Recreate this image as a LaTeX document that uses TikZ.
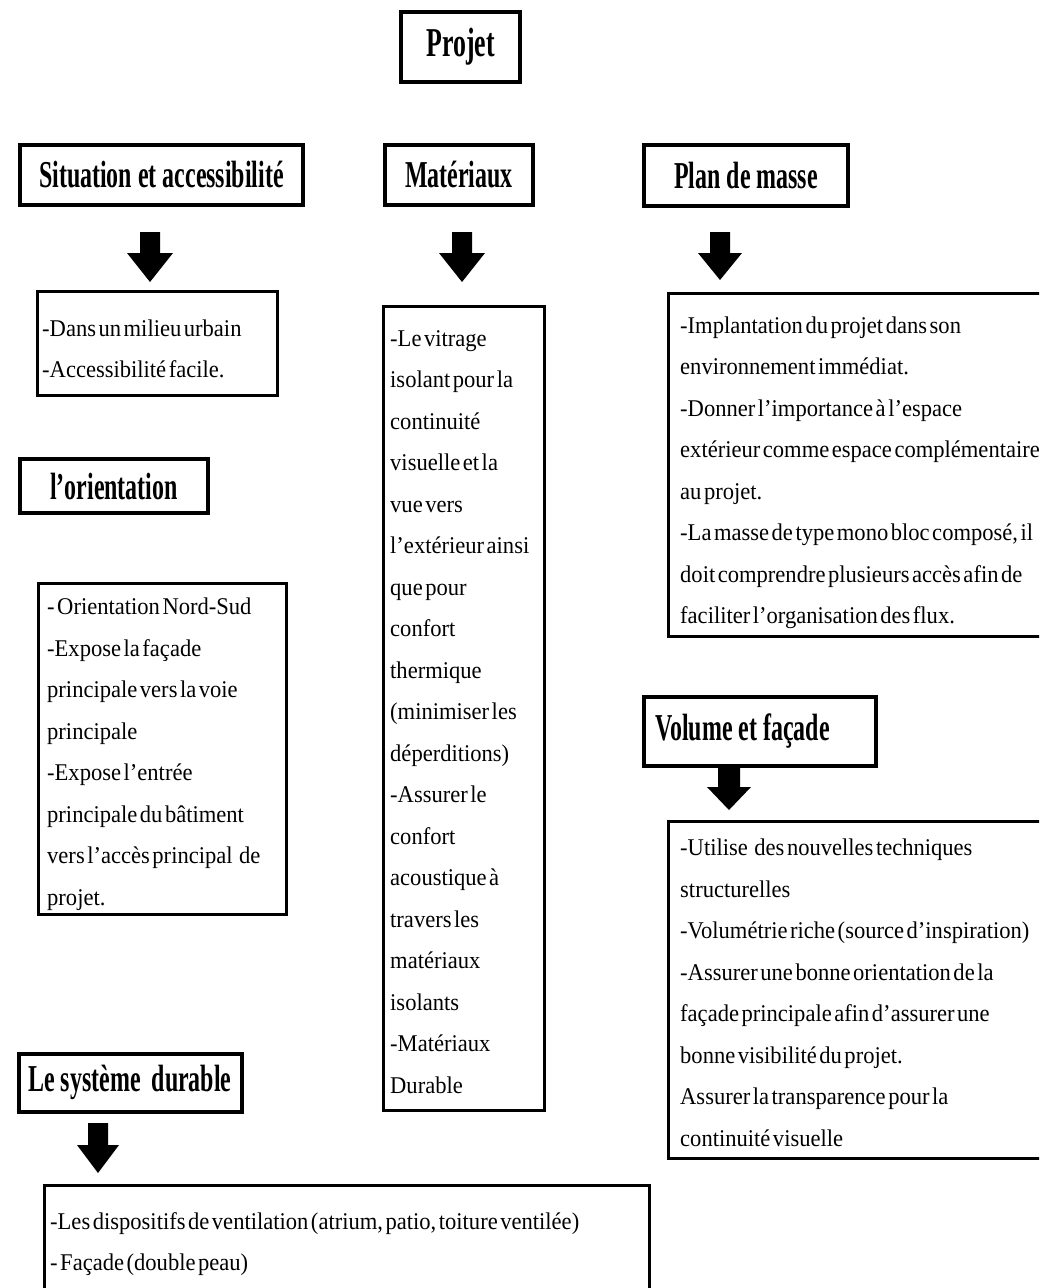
\documentclass[tikz,border=0pt]{standalone}
\usepackage{fontspec}
\setmainfont{Liberation Serif}
\newfontfamily\hdfont[FakeStretch=0.63]{Liberation Serif}
\newfontfamily\bdfont[FakeStretch=0.94,WordSpace=0.45]{Liberation Serif}
% #1 start coord, #2 tip coord, #3 shaft half width, #4 head half width, #5 shaft length, #6 head length
\newcommand\fatarrow[6]{\fill (#1) ++(-#3,0) -- ++({2*#3},0) -- ++(0,#5) -- ++({#4-#3},0) -- (#2) -- ++(-#4,-#6) -- ++({#4-#3},0) -- cycle;}
\begin{document}
\begin{tikzpicture}[x=1pt,y=-1pt,
  hdbox/.style={draw, line width=4pt, inner sep=0pt, font=\hdfont\bfseries\fontsize{38}{40}\selectfont},
  bdbox/.style={draw, line width=3pt, inner sep=0pt},
  bdtext/.style={anchor=west, align=left, inner sep=0pt, font=\bdfont\fontsize{24}{41.5}\selectfont}]
\useasboundingbox (0,0) rectangle (1039,1288);
\clip (0,0) rectangle (1039,1288);
\fill[white] (0,0) rectangle (1039,1288);

% headers
\node[hdbox, minimum width=119, minimum height=70, font=\hdfont\bfseries\fontsize{41}{43}\selectfont] (projet) at (460.5,47) {Projet};
\node[hdbox, minimum width=283, minimum height=60] (hsit) at (161.5,175) {Situation et accessibilité};
\node[hdbox, minimum width=148, minimum height=60] (hmat) at (459,175) {Matériaux};
\node[hdbox, minimum width=204, minimum height=61] (hplan) at (746,175.5) {Plan de masse};
\node[hdbox, minimum width=188, minimum height=54] (hori) at (114,486) {l’orientation};
\node[hdbox, minimum width=232, minimum height=69] (hvol) at (759.5,731) {Volume et façade\kern34pt\rule{0pt}{0pt}};
\node[hdbox, minimum width=223, minimum height=58] (hsys) at (130,1082.5) {Le système\hspace{5pt} durable};

% body boxes
\node[bdbox, minimum width=240, minimum height=104] (bsit) at (157.5,343.5) {};
\node[bdbox, minimum width=248, minimum height=331] (bori) at (162.5,749) {};
\node[bdbox, minimum width=161, minimum height=804] (bmat) at (464,708.5) {};
\node[bdbox, minimum width=375, minimum height=343] (bplan) at (856,465) {};
\node[bdbox, minimum width=375, minimum height=337] (bvol) at (856,990) {};
\node[bdbox, minimum width=605, minimum height=130] (bsys) at (347,1250) {};

% body texts
\node[bdtext] (tsit) at (42,349) {-Dans un milieu urbain\\-Accessibilité facile.};
\node[bdtext] (tori) at (47,754) {- Orientation Nord-Sud\\-Expose la façade\\principale vers la voie\\principale\\-Expose l’entrée\\principale du bâtiment\\vers l’accès principal\hspace{4pt} de\\projet.};
\node[bdtext] (tmat) at (390,712) {-Le vitrage\\isolant pour la\\continuité\\visuelle et la\\vue vers\\l’extérieur ainsi\\que pour\\confort\\thermique\\(minimiser les\\déperditions)\\-Assurer le\\confort\\acoustique à\\travers les\\matériaux\\isolants\\-Matériaux\\Durable};
\node[bdtext] (tplan) at (680,473) {-Implantation du projet dans son\\environnement immédiat.\\-Donner l’importance à l’espace\\extérieur comme espace complémentaire\\au projet.\\-La masse de type mono bloc composé, il\\doit comprendre plusieurs accès afin de\\faciliter l’organisation des flux.};
\node[bdtext] (tvol) at (680,993) {-Utilise\hspace{4pt} des nouvelles techniques\\structurelles\\-Volumétrie riche (source d’inspiration)\\-Assurer une bonne orientation de la\\façade principale afin d’assurer une\\bonne visibilité du projet.\\Assurer la transparence pour la\\continuité visuelle};
\node[bdtext] (tsys) at (50,1244) {-Les dispositifs de ventilation (atrium, patio, toiture ventilée)\\- Façade (double peau)};

% arrows
\coordinate (a1s) at (150,232); \coordinate (a1e) at (150,282);
\coordinate (a2s) at (462,232); \coordinate (a2e) at (462,282);
\coordinate (a3s) at (720,232); \coordinate (a3e) at (720,280);
\coordinate (a4s) at (729,768); \coordinate (a4e) at (729,810);
\coordinate (a5s) at (98,1123); \coordinate (a5e) at (98,1173);
\fatarrow{a1s}{a1e}{10}{23}{21}{29}
\fatarrow{a2s}{a2e}{10}{23}{21}{29}
\fatarrow{a3s}{a3e}{10}{22}{21}{27}
\fatarrow{a4s}{a4e}{11}{22}{19}{23}
\fatarrow{a5s}{a5e}{10}{21}{22}{28}
\end{tikzpicture}
\end{document}
